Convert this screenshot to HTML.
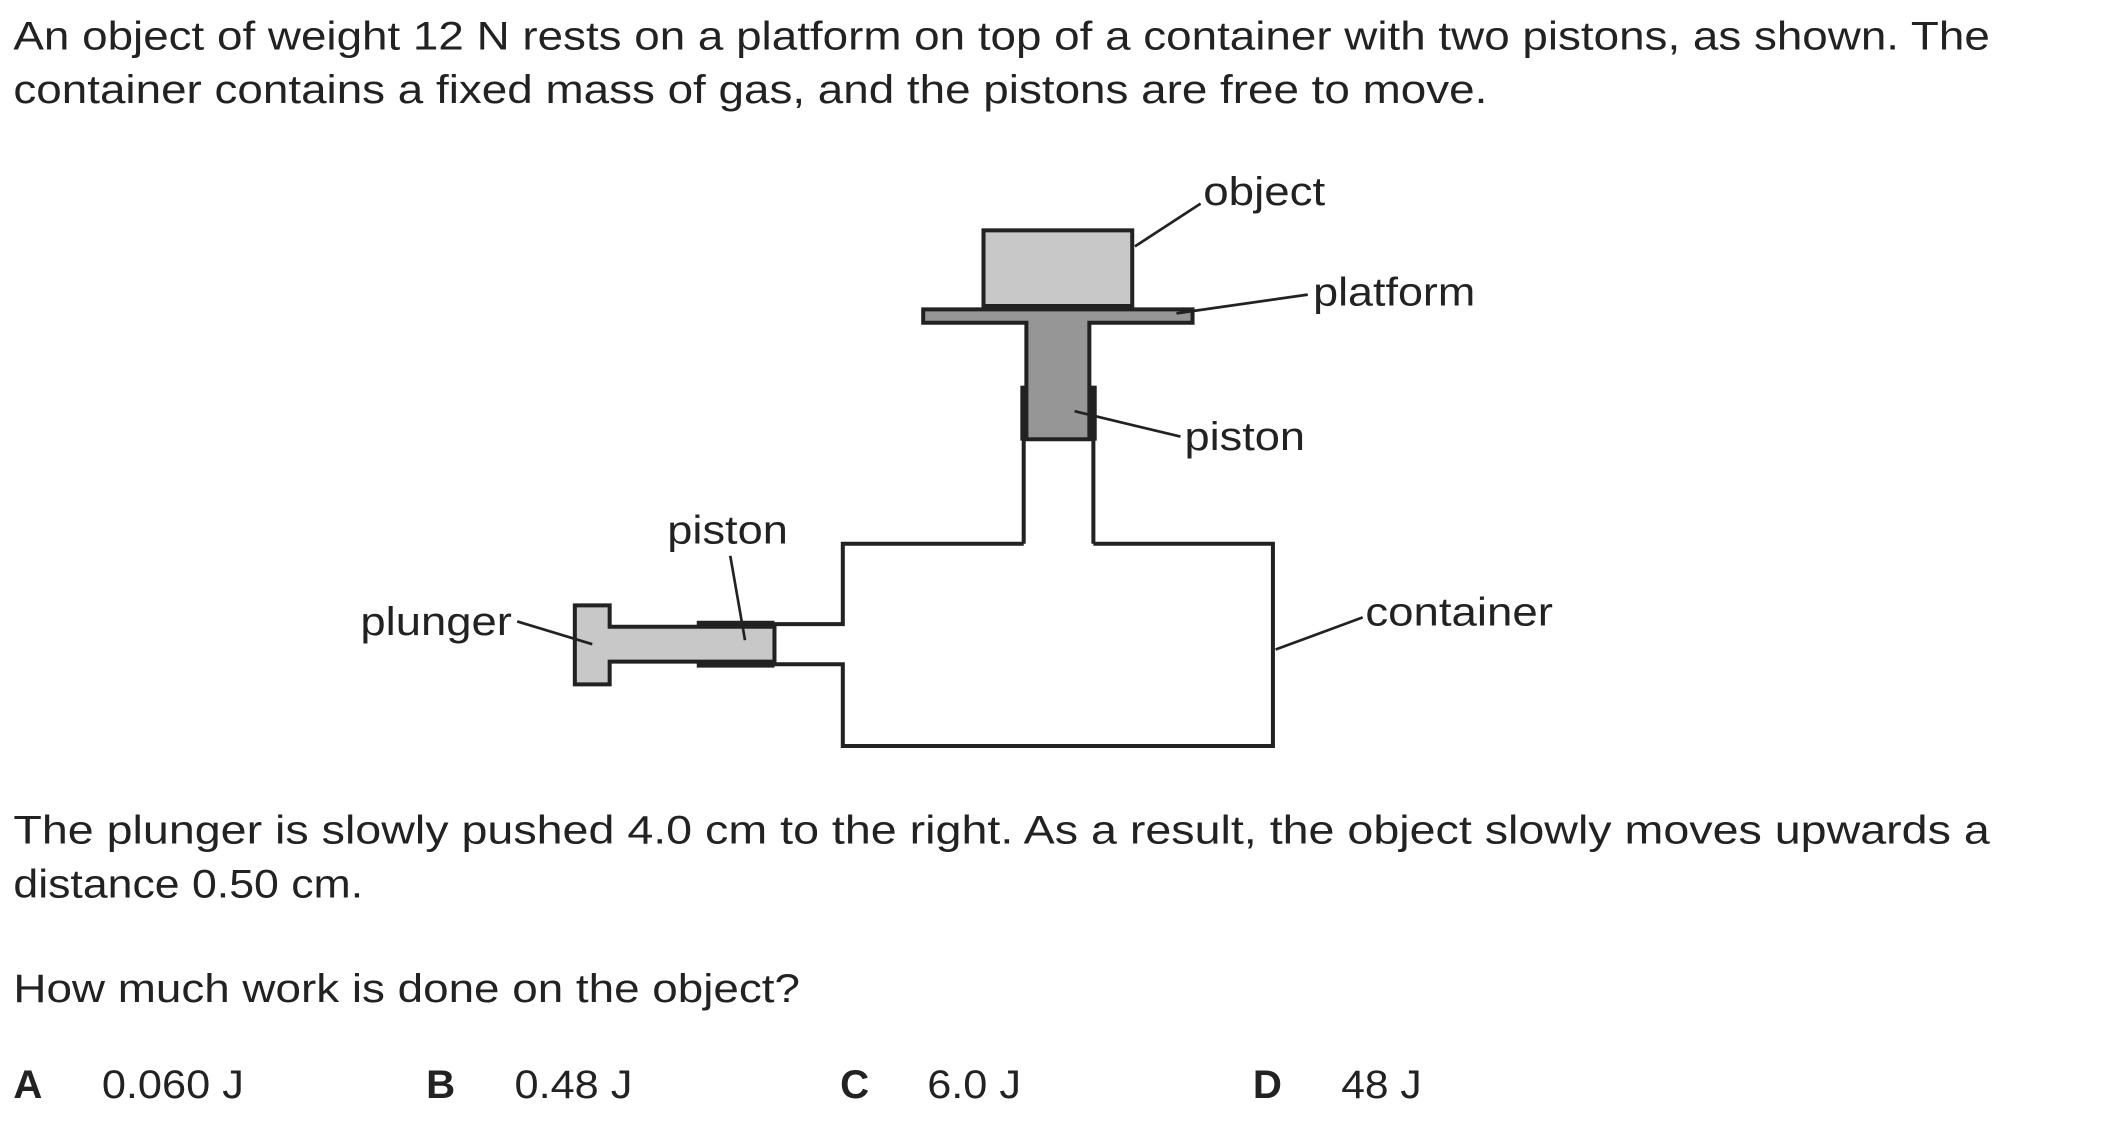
<!DOCTYPE html>
<html><head><meta charset="utf-8"><style>
html,body{margin:0;padding:0;background:#fff;}
svg{display:block;}
text{font-family:"Liberation Sans",Arial,sans-serif;fill:#222;font-size:30px;}
</style></head><body>
<svg width="2101" height="1129" viewBox="0 0 1568 843" preserveAspectRatio="none" xmlns="http://www.w3.org/2000/svg">
<text x="10" y="37" textLength="1475" lengthAdjust="spacingAndGlyphs">An object of weight 12 N rests on a platform on top of a container with two pistons, as shown. The</text>
<text x="10" y="77" textLength="1100" lengthAdjust="spacingAndGlyphs">container contains a fixed mass of gas, and the pistons are free to move.</text>

<g stroke="#222" stroke-width="3" fill="none">
<rect x="734" y="172" width="111" height="57" fill="#c8c8c8"/>
<line x1="733" y1="229" x2="846" y2="229" stroke-width="4"/>
<path d="M689,231 H890 V241 H813 V328 H766 V241 H689 Z" fill="#969696"/>
<line x1="764" y1="288" x2="764" y2="406"/>
<line x1="816" y1="288" x2="816" y2="406"/>
<line x1="764" y1="288" x2="764" y2="329" stroke-width="5"/>
<line x1="816" y1="288" x2="816" y2="329" stroke-width="5"/>
<path d="M764,406 H629 V466 H578 M578,496 H629 V557 H950 V406 H816"/>
<path d="M429,452 H455 V468 H578 V494 H455 V511 H429 Z" fill="#c8c8c8"/>
<line x1="520" y1="466" x2="578" y2="466" stroke-width="5"/>
<line x1="520" y1="496" x2="578" y2="496" stroke-width="5"/>
<g stroke-width="2">
<line x1="847" y1="184" x2="896" y2="152"/>
<line x1="878" y1="234" x2="976" y2="220"/>
<line x1="802" y1="307" x2="881" y2="326"/>
<line x1="545" y1="415" x2="556" y2="478"/>
<line x1="386" y1="464" x2="442" y2="481"/>
<line x1="952" y1="485" x2="1017" y2="461"/>
</g>
</g>
<text x="898" y="153" textLength="91" lengthAdjust="spacingAndGlyphs">object</text>
<text x="980" y="228" textLength="121" lengthAdjust="spacingAndGlyphs">platform</text>
<text x="884" y="336" textLength="90" lengthAdjust="spacingAndGlyphs">piston</text>
<text x="498" y="406" textLength="90" lengthAdjust="spacingAndGlyphs">piston</text>
<text x="269" y="474" textLength="113" lengthAdjust="spacingAndGlyphs">plunger</text>
<text x="1019" y="467" textLength="140" lengthAdjust="spacingAndGlyphs">container</text>

<text x="10" y="630" textLength="1475" lengthAdjust="spacingAndGlyphs">The plunger is slowly pushed 4.0 cm to the right. As a result, the object slowly moves upwards a</text>
<text x="10" y="670" textLength="261" lengthAdjust="spacingAndGlyphs">distance 0.50 cm.</text>
<text x="10" y="748" textLength="587" lengthAdjust="spacingAndGlyphs">How much work is done on the object?</text>
<text x="10" y="820" font-weight="bold">A</text><text x="76" y="820" textLength="106" lengthAdjust="spacingAndGlyphs">0.060 J</text>
<text x="318" y="820" font-weight="bold">B</text><text x="384" y="820" textLength="88" lengthAdjust="spacingAndGlyphs">0.48 J</text>
<text x="627" y="820" font-weight="bold">C</text><text x="692" y="820" textLength="70" lengthAdjust="spacingAndGlyphs">6.0 J</text>
<text x="935" y="820" font-weight="bold">D</text><text x="1001" y="820" textLength="60" lengthAdjust="spacingAndGlyphs">48 J</text>
</svg>
</body></html>
